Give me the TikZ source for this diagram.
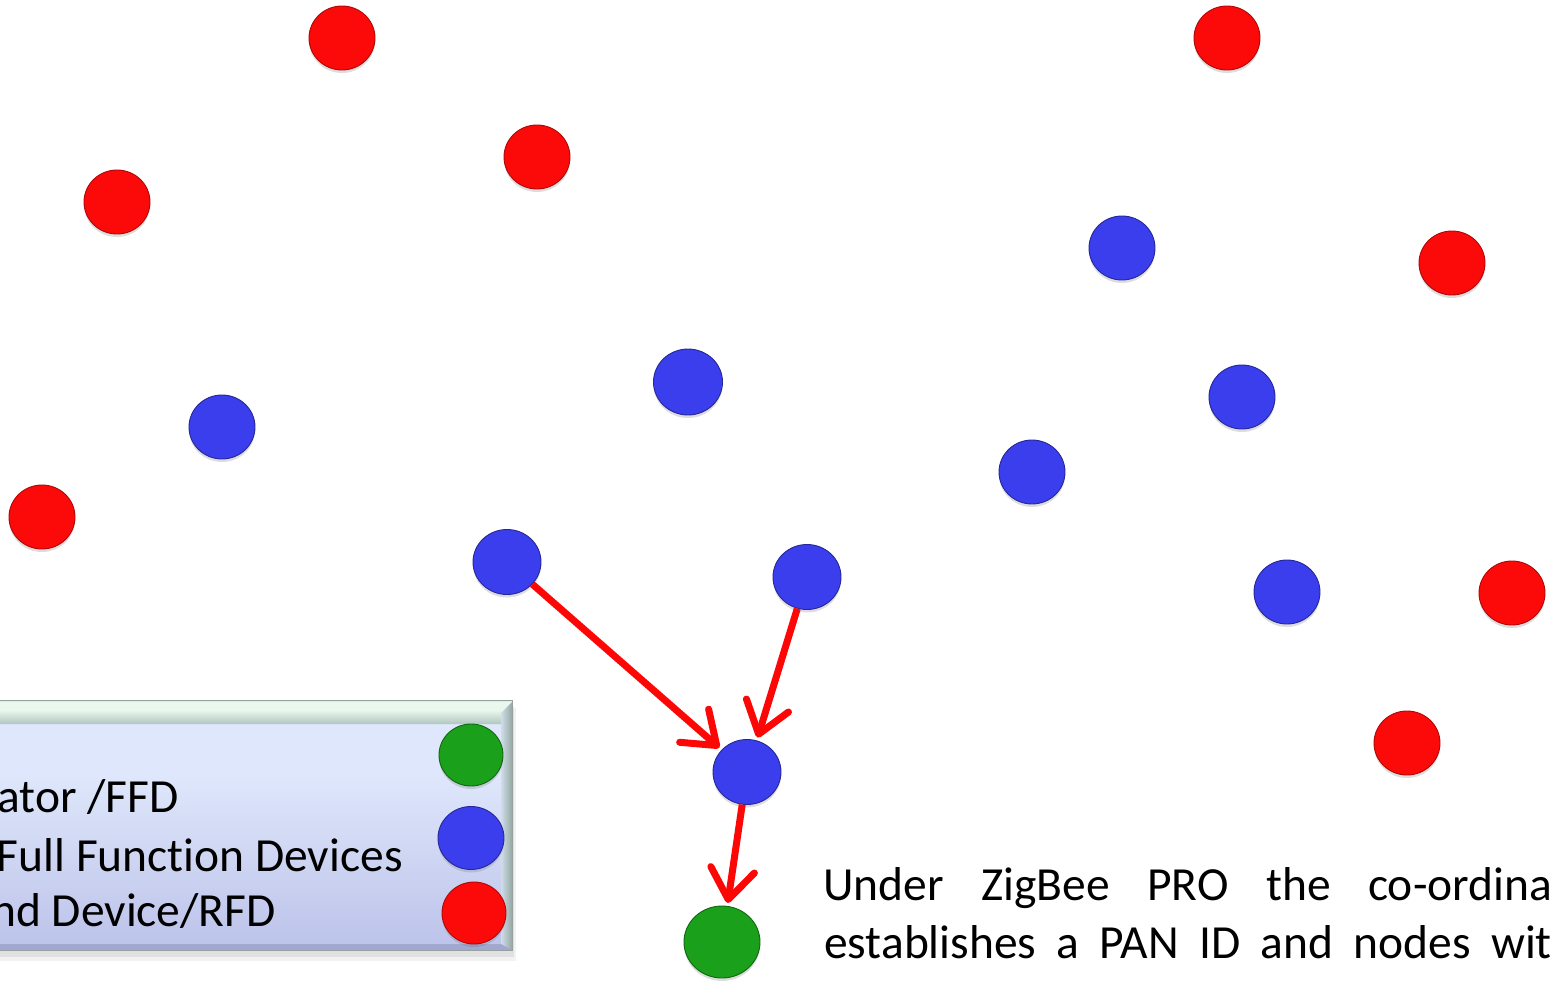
\documentclass[tikz,border=0pt]{standalone}
\usepackage{fontspec}
\setmainfont[Ligatures={NoCommon,NoContextual}]{Carlito}
\usetikzlibrary{arrows.meta,shapes.geometric,shadows}

\definecolor{devred}{RGB}{252,10,10}
\definecolor{devblue}{RGB}{58,62,236}
\definecolor{devgreen}{RGB}{26,160,26}
\definecolor{linkred}{RGB}{252,6,6}
\definecolor{lgTop}{RGB}{176,198,192}
\definecolor{lgMid}{RGB}{222,231,251}
\definecolor{lgBot}{RGB}{164,168,221}
\definecolor{lgEdge}{RGB}{150,162,160}
\definecolor{lgShine}{RGB}{234,247,236}

% legend panel: grey-green rim at the top, pale blue body, lavender foot
\pgfdeclareverticalshading{legendfill}{100bp}{%
  color(0bp)=(lgBot); color(60bp)=(lgMid); color(85bp)=(lgMid);
  color(93bp)=(lgTop); color(100bp)=(lgTop)}

\tikzset{
  dev/.style={ellipse, inner sep=0pt, minimum width=66pt, minimum height=64pt,
    line width=0.9pt,
    drop shadow={shadow xshift=0pt, shadow yshift=-3pt, opacity=0.22, fill=black!60}},
  rdev/.style={dev, fill=devred, draw=devred!70!black},
  bdev/.style={dev, fill=devblue, draw=devblue!65!black},
  gdev/.style={dev, fill=devgreen, draw=devgreen!65!black},
  link/.style={draw=linkred, line width=7pt, shorten >=3pt,
    -{Straight Barb[length=30pt, width=44pt, line width=7pt, round]}},
  txt/.style={inner sep=0pt, font=\fontsize{47.5}{58}\selectfont, text=black},
}

\begin{document}
\begin{tikzpicture}[x=1pt, y=-1pt]
\useasboundingbox (0,0) rectangle (1550,980);

% ---- legend panel ----
\fill[black, opacity=0.07] (-20,706) rectangle (514,957);
\fill[black, opacity=0.05] (-20,708) rectangle (516,961);
\shade[shading=legendfill] (-20,700) rectangle (512,950);
\fill[lgShine] (-20,702) -- (512,702) -- (501,713) -- (-20,713) -- cycle;
\shade[top color=lgShine, bottom color=lgTop]
  (-20,710) -- (503,710) -- (501,724) -- (-20,724) -- cycle;
\shade[left color=lgMid!70!lgTop, right color=lgTop!85!black]
  (501,713) -- (512,702) -- (512,950) -- (501,944) -- cycle;
\fill[lgBot!80!black, opacity=0.45] (-20,944) -- (501,944) -- (512,950) -- (-20,950) -- cycle;
\draw[lgEdge, line width=1pt] (-20,700) rectangle (512,950);

\node[gdev, minimum width=64pt, minimum height=62pt] (lg) at (471,755) {};
\node[bdev, minimum width=66pt, minimum height=63pt] (lb) at (471,838) {};
\node[rdev, minimum width=64pt, minimum height=62pt] (lr) at (474,913) {};

\node[txt, anchor=base east] (t1) at (179,812) {ator /FFD};
\node[txt, anchor=base east] (t2) at (403,871) {Full Function Devices};
\node[txt, anchor=base east] (t3) at (276,926) {nd Device/RFD};

% ---- end devices ----
\node[rdev] (r1) at (342,38) {};
\node[rdev] (r2) at (1227,38) {};
\node[rdev] (r3) at (537,157) {};
\node[rdev] (r4) at (117,202) {};
\node[rdev] (r5) at (1452,263) {};
\node[rdev] (r6) at (42,517) {};
\node[rdev] (r7) at (1512,593) {};
\node[rdev] (r8) at (1407,743) {};

% ---- routers ----
\node[bdev] (b1) at (1122,248) {};
\node[bdev, minimum width=69pt, minimum height=66pt] (b2) at (688,382) {};
\node[bdev] (b3) at (222,427) {};
\node[bdev] (b4) at (1242,397) {};
\node[bdev] (b5) at (1032,472) {};
\node[bdev, minimum width=68pt, minimum height=65pt] (b6) at (507,562) {};
\node[bdev, minimum width=68pt, minimum height=65pt] (b7) at (807,577) {};
\node[bdev] (b8) at (1287,592) {};
\node[bdev, minimum width=68pt, minimum height=65pt] (b9) at (747,772) {};

% ---- co-ordinator ----
\node[gdev, minimum width=76pt, minimum height=72pt] (c) at (722,942) {};

% ---- joining paths ----
\draw[link] (b6) -- (b9);
\draw[link] (b7) -- (b9);
\draw[link] (b9) -- (c);

% ---- caption ----
\node[txt, anchor=base west] (p1) at (823,900)
  {\spaceskip=37.5pt Under ZigBee PRO the co-ordinator};
\node[txt, anchor=base west] (p2) at (824,958)
  {\spaceskip=20.3pt establishes a PAN ID and nodes with};
\end{tikzpicture}
\end{document}
